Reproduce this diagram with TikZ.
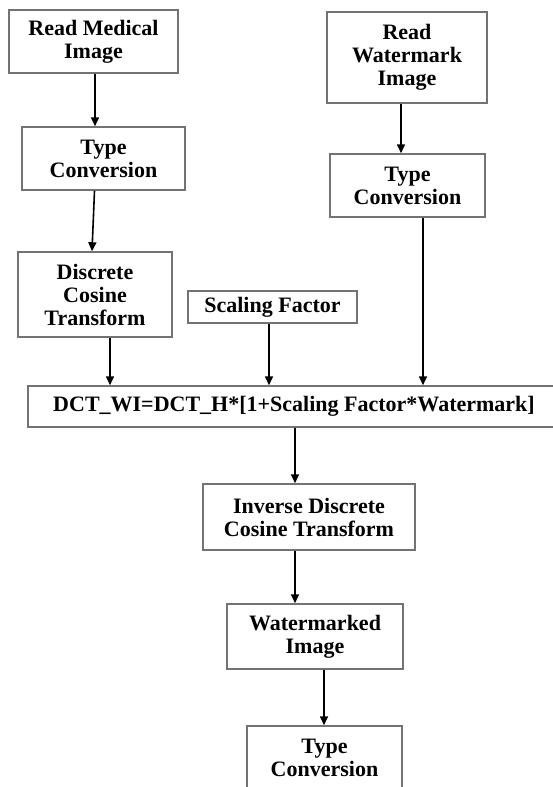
\documentclass[tikz,border=0pt]{standalone}
\usepackage{fontspec}
\setmainfont{Liberation Serif}
\usepackage{tikz}
\usetikzlibrary{arrows.meta,positioning}
\definecolor{boxgray}{RGB}{115,115,115}

\begin{document}
\begin{tikzpicture}[x=0.5pt,y=-0.5pt,
	procbox/.style={draw=boxgray,line width=0.75pt,fill=white,align=center,inner sep=0pt,
		font=\bfseries\fontsize{11}{11.5}\selectfont},
	flow/.style={-{Triangle[length=4.5pt,width=4pt]},line width=0.8pt,black}]
	\useasboundingbox[fill=white] (0,0) rectangle (552,787);
	% left branch
	\node[procbox,minimum width=84.5pt,minimum height=31.5pt](rdmed) at (93.5,41.5){Read Medical\\Image};
	\node[procbox,minimum width=81.5pt,minimum height=31.5pt](tcmed) at (103.5,158.5){Type\\Conversion};
	\node[procbox,minimum width=77pt,minimum height=42.5pt](dct) at (95,294.5){Discrete\\Cosine\\Transform};
	% scaling factor and watermark branch
	\node[procbox,minimum width=84.5pt,minimum height=16pt](sf) at (272.5,307){Scaling Factor};
	\node[procbox,minimum width=80pt,minimum height=45.5pt](rdwm) at (407,57.5){Read\\Watermark\\Image};
	\node[procbox,minimum width=77.5pt,minimum height=31.5pt](tcwm) at (407.5,185.5){Type\\Conversion};
	% embedding and output
	\node[procbox,minimum width=266pt,minimum height=20.5pt](emb) at (294,406.5){DCT\_WI=DCT\_H*[1+Scaling Factor*Watermark]};
	\node[procbox,minimum width=106pt,minimum height=33pt](idct) at (309,517){Inverse Discrete\\Cosine Transform};
	\node[procbox,minimum width=88pt,minimum height=32.5pt](wmimg) at (315,636.5){Watermarked\\Image};
	\node[procbox,minimum width=77.5pt,minimum height=31.5pt](tcout) at (324.5,757.5){Type\\Conversion};
	\draw[flow]([xshift=0.75pt]rdmed.south)--([xshift=0.75pt]rdmed.south |- tcmed.north);
	\draw[flow]([xshift=-4.5pt]tcmed.south)--([xshift=-1.5pt]dct.north);
	\draw[flow]([xshift=7.5pt]dct.south)--([xshift=7.5pt]dct.south |- emb.north);
	\draw[flow]([xshift=-1.75pt]sf.south)--([xshift=-1.75pt]sf.south |- emb.north);
	\draw[flow]([xshift=-3pt]rdwm.south)--([xshift=-3pt]rdwm.south |- tcwm.north);
	\draw[flow]([xshift=7.75pt]tcwm.south)--([xshift=7.75pt]tcwm.south |- emb.north);
	\draw[flow]([xshift=0.5pt]emb.south)--([xshift=0.5pt]emb.south |- idct.north);
	\draw[flow]([xshift=-7pt]idct.south)--([xshift=-7pt]idct.south |- wmimg.north);
	\draw[flow]([xshift=4.5pt]wmimg.south)--([xshift=4.5pt]wmimg.south |- tcout.north);
\end{tikzpicture}
\end{document}
